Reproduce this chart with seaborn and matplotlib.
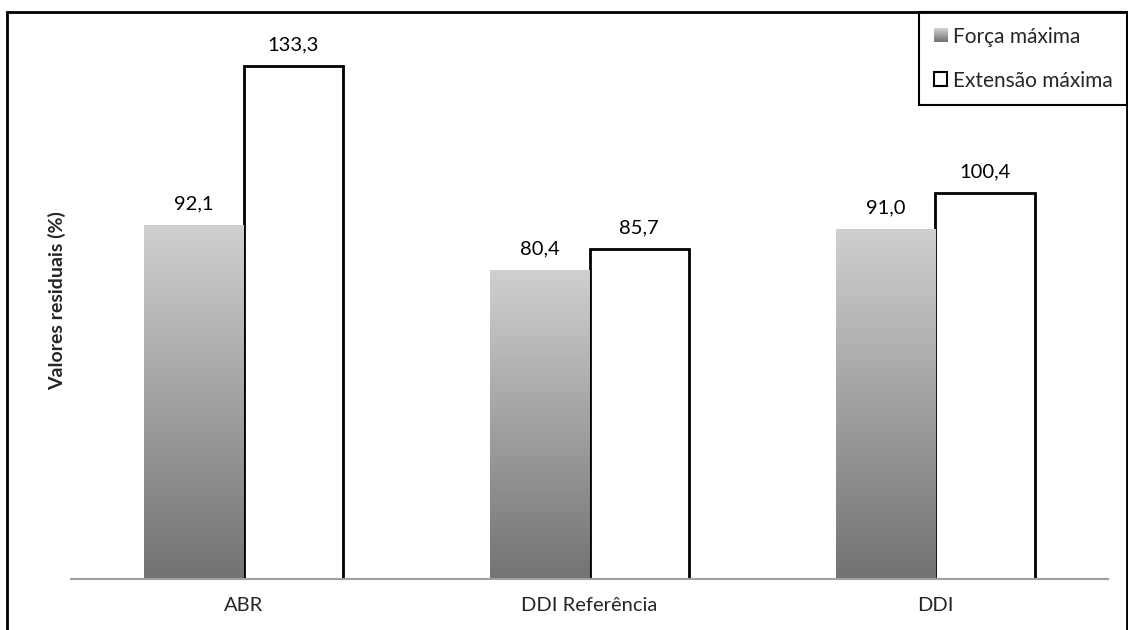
import numpy as np
import pandas as pd
import matplotlib
matplotlib.use("Agg")
import matplotlib.pyplot as plt
from matplotlib.patches import Patch, Rectangle
import seaborn as sns

categories = ["ABR", "DDI Referência", "DDI"]
series_names = ["Força máxima", "Extensão máxima"]
forca_maxima = [92.1, 80.4, 91.0]
extensao_maxima = [133.3, 85.7, 100.4]
y_label = "Valores residuais (%)"

df = pd.DataFrame({
    "categoria": categories * 2,
    "serie": [series_names[0]] * 3 + [series_names[1]] * 3,
    "valor": forca_maxima + extensao_maxima,
})

sns.set_style("white")
plt.rcParams["font.family"] = ["Lato", "DejaVu Sans"]

W, H, DPI = 1128, 630, 100
FS = 14.5
fig = plt.figure(figsize=(W / DPI, H / DPI), dpi=DPI)
fig.patch.set_facecolor("white")

# plot area in pixel units
left_px, right_px, base_px, top_px = 71, 1108, 579, 12
ax = fig.add_axes([left_px / W, (H - base_px) / H,
                   (right_px - left_px) / W, (base_px - top_px) / H])

sns.barplot(data=df, x="categoria", y="valor", hue="serie",
            palette={series_names[0]: "#A6A6A6", series_names[1]: "white"},
            width=0.575, gap=0, saturation=1, legend=False, ax=ax)

ymax = (base_px - top_px) / 3.848

# gray series: vertical gradient, light at the top and dark at the base
grad = np.linspace(0, 1, 256).reshape(-1, 1)
cmap = matplotlib.colors.LinearSegmentedColormap.from_list(
    "g", ["#737373", "#D0D0D0"])
for bar in ax.containers[0]:
    bar.set_edgecolor("none")
    x0, y0 = bar.get_x(), bar.get_y()
    w, h = bar.get_width(), bar.get_height()
    im = ax.imshow(grad, cmap=cmap, aspect="auto", origin="lower",
                   extent=(x0, x0 + w, y0, y0 + h), zorder=bar.get_zorder())
    im.set_clip_path(bar)
    bar.set_facecolor("none")
for bar in ax.containers[1]:
    bar.set_edgecolor("black")
    bar.set_linewidth(2)
ax.set_xlim(-0.5, 2.5)
ax.set_ylim(0, ymax)

for cont in ax.containers:
    ax.bar_label(cont, labels=[f"{v:.1f}".replace(".", ",") for v in cont.datavalues],
                 padding=9, fontsize=FS, color="black")

# axes styling
for s in ["top", "right", "left"]:
    ax.spines[s].set_visible(False)
ax.spines["bottom"].set_color("#A0A0A0")
ax.spines["bottom"].set_linewidth(1.5)
ax.set_yticks([])
ax.set_xlabel("")
ax.set_ylabel("")
ax.set_xticks(range(len(categories)))
ax.set_xticklabels(categories, fontsize=FS)
ax.tick_params(axis="x", which="major", length=0, pad=13)
ax.set_xticks([-0.5, 0.5, 1.5, 2.5], minor=True)
ax.tick_params(axis="x", which="minor", length=5, width=1.5, color="#A0A0A0")

fig.text(57 / W, 1 - 301 / H, y_label, rotation=90, ha="center", va="center",
         fontsize=14, fontweight="bold")

# outer frame of the chart
fig.patches.append(Rectangle((7 / W, -0.05), (1127 - 7) / W, (H - 12) / H + 0.05,
                             transform=fig.transFigure, fill=False,
                             edgecolor="black", linewidth=2, zorder=10))

handles = [Patch(facecolor="#A6A6A6", edgecolor="none", label=series_names[0]),
           Patch(facecolor="white", edgecolor="black", linewidth=1.5,
                 label=series_names[1])]
leg = fig.legend(handles=handles, loc="upper right",
                 bbox_to_anchor=(1127 / W, 1 - 12 / H), fontsize=15,
                 frameon=True, fancybox=False, framealpha=1,
                 handlelength=0.65, handleheight=0.65, handletextpad=0.25,
                 labelspacing=1.15, borderpad=0.7, borderaxespad=0)
leg.get_frame().set_edgecolor("black")
leg.get_frame().set_linewidth(1.5)

fig.canvas.draw()
# gradient swatch for the gray legend entry
hp = leg.legend_handles[0]
bb = hp.get_window_extent()
hh = max(int(round(bb.height)), 2)
ww = max(int(round(bb.width)), 2)
sw = cmap(np.linspace(0, 1, hh))[:, :3]
sw = np.repeat(sw[:, None, :], ww, axis=1)[::-1]
fig.figimage(sw, xo=int(round(bb.x0)), yo=int(round(bb.y0)), zorder=20, origin="upper")

fig.savefig("out.png", dpi=DPI)
